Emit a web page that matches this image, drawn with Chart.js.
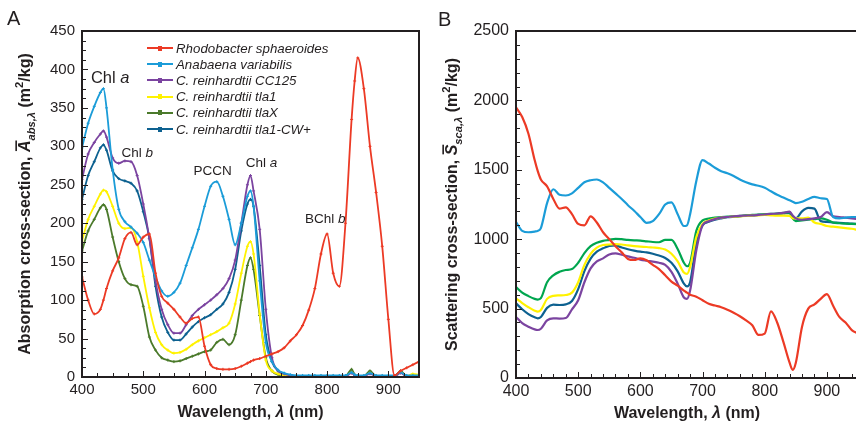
<!DOCTYPE html>
<html>
<head>
<meta charset="utf-8">
<script src="https://cdn.jsdelivr.net/npm/chart.js@4.4.1/dist/chart.umd.min.js"></script>
<style>
  body { margin: 0; width: 856px; height: 425px; overflow: hidden; background: #fff;
         font-family: "Liberation Sans", Arial, sans-serif; color: #231f20; position: relative; }
  .wrap { position: absolute; top: 0; height: 425px; }
  #wrapA { left: 0; width: 430px; }
  #wrapB { left: 430px; width: 432px; }
  .panel { position: absolute; font-size: 20px; line-height: 20px; }
  #legend { position: absolute; left: 147px; top: 40px; font-size: 13.3px; font-style: italic; }
  .row { height: 16.2px; display: flex; align-items: center; white-space: nowrap; }
  .sw { width: 26px; height: 2px; margin-right: 3px; position: relative; }
  .sw i { position: absolute; left: 11px; top: -1.5px; width: 4px; height: 5px; }
</style>
</head>
<body>
<div class="wrap" id="wrapA"><canvas id="chartA" width="430" height="425"></canvas></div>
<div class="wrap" id="wrapB"><canvas id="chartB" width="432" height="425"></canvas></div>
<div class="panel" style="left:7px;top:8px">A</div>
<div class="panel" style="left:438px;top:9px">B</div>
<div id="legend"></div>

<script>
// wavelength grid (nm), shared by every series
const wavelengths = [400, 410, 420, 430, 435, 440, 450, 460, 470, 480, 490, 500, 510, 520, 530, 540, 550, 560, 570, 580,
  590, 600, 610, 620, 630, 640, 650, 660, 670, 675, 680, 690, 700, 710, 720, 730, 740, 750, 760, 770,
  780, 790, 800, 810, 820, 830, 840, 845, 850, 860, 870, 880, 890, 900, 910, 920, 930, 940, 950];
const xTickValues = [400, 500, 600, 700, 800, 900];

const seriesNames = ["Rhodobacter sphaeroides", "Anabaena variabilis", "C. reinhardtii CC125",
  "C. reinhardtii tla1", "C. reinhardtii tlaX", "C. reinhardtii tla1-CW+"];
const colorsA = ["#ec3a25", "#1b9cd8", "#7b44a0", "#fff200", "#4b7a2b", "#0d6190"];
const colorsB = ["#ec3a25", "#1b9cd8", "#7b44a0", "#fff200", "#00a64f", "#0d6190"];

// panel A: absorption cross-section (m2/kg)
const absRhodo = [130, 100, 82, 88, 100, 115, 138, 155, 180, 188, 172, 182, 186, 135, 105, 96, 88, 78, 70, 76,
  78, 40, 16, 11, 10, 10, 11, 14, 18, 20, 22, 24, 27, 30, 33, 38, 47, 55, 67, 87,
  115, 160, 186, 135, 118, 200, 335, 385, 415, 375, 300, 240, 170, 75, 2, 8, 12, 16, 20];
const absAnabaena = [298, 330, 352, 370, 375, 350, 270, 218, 202, 195, 187, 175, 152, 130, 112, 105, 110, 122, 145, 168,
  192, 222, 248, 254, 235, 205, 172, 200, 235, 242, 222, 125, 45, 20, 9, 5, 3, 2, 2, 2,
  2, 2, 2, 2, 2, 2, 6, 3, 2, 2, 5, 2, 2, 2, 2, 6, 2, 2, 2];
const absCC125 = [257, 290, 305, 316, 320, 312, 285, 278, 281, 280, 262, 225, 180, 125, 88, 68, 57, 57, 68, 80,
  88, 94, 100, 107, 115, 128, 152, 200, 250, 262, 242, 192, 88, 25, 8, 4, 2, 1, 1, 1,
  1, 1, 1, 1, 1, 1, 5, 2, 1, 1, 4, 1, 1, 1, 1, 5, 1, 1, 1];
const absTla1 = [177, 205, 222, 238, 243, 241, 222, 200, 193, 194, 176, 131, 90, 58, 42, 35, 31, 32, 36, 42,
  47, 51, 55, 59, 64, 70, 95, 135, 170, 176, 160, 82, 22, 8, 4, 2, 1, 1, 1, 1,
  1, 1, 1, 1, 1, 1, 6, 2, 1, 1, 5, 1, 1, 1, 1, 6, 1, 4, 3];
const absTlaX = [164, 190, 205, 220, 224, 218, 182, 150, 128, 120, 118, 92, 52, 35, 25, 22, 20, 21, 24, 27,
  30, 33, 35, 45, 49, 42, 55, 100, 145, 155, 140, 80, 25, 8, 3, 1, 1, 1, 1, 1,
  1, 1, 1, 1, 1, 1, 10, 3, 1, 1, 8, 1, 1, 1, 1, 8, 1, 1, 1];
const absCW = [231, 262, 280, 298, 302, 295, 268, 258, 255, 252, 242, 215, 180, 118, 78, 58, 48, 48, 56, 65,
  72, 77, 81, 88, 95, 110, 140, 190, 225, 231, 222, 145, 55, 20, 8, 4, 2, 1, 1, 1,
  1, 1, 1, 1, 1, 1, 8, 3, 1, 1, 6, 1, 1, 1, 1, 7, 1, 2, 1];

// panel B: scattering cross-section (m2/kg)
const scaRhodo = [1950, 1880, 1760, 1570, 1490, 1430, 1380, 1290, 1220, 1230, 1180, 1110, 1100, 1165, 1120, 1050, 1000, 950, 905, 858,
  850, 862, 848, 815, 785, 740, 695, 665, 630, 615, 600, 586, 560, 535, 522, 510, 492, 470, 445, 415,
  380, 310, 320, 480, 400, 260, 110, 58, 110, 370, 500, 530, 570, 605, 520, 440, 400, 345, 320];
const scaAnabaena = [1125, 1060, 1050, 1055, 1060, 1080, 1260, 1360, 1320, 1315, 1330, 1370, 1410, 1425, 1430, 1410, 1370, 1330, 1290, 1245,
  1205, 1160, 1118, 1130, 1180, 1250, 1265, 1180, 1095, 1100, 1180, 1420, 1570, 1545, 1515, 1490, 1475, 1455, 1430, 1410,
  1395, 1385, 1370, 1345, 1320, 1300, 1280, 1270, 1260, 1270, 1290, 1305, 1295, 1290, 1160, 1150, 1155, 1160, 1160];
const scaCC125 = [440, 395, 370, 350, 346, 355, 415, 430, 428, 432, 495, 560, 690, 790, 840, 862, 890, 898, 888, 876,
  866, 853, 845, 838, 830, 815, 765, 680, 580, 570, 630, 920, 1100, 1130, 1145, 1155, 1160, 1165, 1168, 1170,
  1172, 1175, 1178, 1182, 1185, 1190, 1198, 1170, 1150, 1140, 1145, 1150, 1160, 1195, 1165, 1160, 1155, 1150, 1145];
const scaTla1 = [574, 540, 510, 485, 478, 490, 570, 592, 595, 598, 615, 690, 815, 895, 940, 958, 962, 965, 962, 955,
  950, 946, 944, 940, 936, 925, 895, 840, 760, 750, 800, 1015, 1110, 1135, 1148, 1155, 1160, 1162, 1165, 1168,
  1170, 1172, 1175, 1172, 1170, 1170, 1168, 1150, 1150, 1150, 1155, 1120, 1110, 1095, 1090, 1085, 1080, 1075, 1065];
const scaTlaX = [655, 615, 590, 570, 565, 575, 690, 740, 765, 778, 785, 830, 900, 950, 975, 988, 995, 1003, 1000, 995,
  992, 990, 985, 980, 978, 995, 995, 930, 830, 805, 830, 1060, 1135, 1148, 1155, 1160, 1162, 1165, 1168, 1172,
  1175, 1178, 1180, 1182, 1185, 1190, 1195, 1150, 1130, 1135, 1140, 1145, 1150, 1140, 1120, 1115, 1112, 1110, 1108];
const scaCW = [538, 495, 460, 437, 430, 440, 505, 528, 526, 530, 555, 640, 770, 860, 910, 934, 952, 955, 940, 928,
  918, 910, 905, 895, 882, 865, 830, 768, 680, 660, 690, 970, 1100, 1125, 1140, 1150, 1158, 1162, 1165, 1170,
  1172, 1175, 1178, 1180, 1182, 1185, 1190, 1150, 1150, 1200, 1225, 1220, 1130, 1125, 1120, 1118, 1115, 1112, 1110];

const absSeries = [absRhodo, absAnabaena, absCC125, absTla1, absTlaX, absCW];
const scaSeries = [scaRhodo, scaAnabaena, scaCC125, scaTla1, scaTlaX, scaCW];

const textColor = "#231f20";
const fontFamily = '"Liberation Sans", Arial, sans-serif';

function drawRich(ctx, segs, x, y, size, rotate) {
  ctx.save();
  ctx.translate(x, y);
  if (rotate) ctx.rotate(-Math.PI / 2);
  let total = 0;
  const parts = segs.map(s => {
    const fs = (s.sub || s.sup) ? size * 0.7 : size;
    const font = (s.i ? "italic " : "") + (s.b ? "bold " : "") + fs + "px " + fontFamily;
    ctx.font = font;
    const w = ctx.measureText(s.t).width;
    total += w;
    return Object.assign({}, s, { font: font, w: w });
  });
  let cx = -total / 2;
  const base = size * 0.36;
  ctx.fillStyle = textColor;
  ctx.textBaseline = "alphabetic";
  parts.forEach(p => {
    ctx.font = p.font;
    let dy = 0;
    if (p.sub) dy = size * 0.3;
    if (p.sup) dy = -size * 0.42;
    ctx.fillText(p.t, cx, base + dy);
    if (p.over) ctx.fillRect(cx + 1, base - size * 0.9, p.w - 1, 1.6);
    cx += p.w;
  });
  ctx.restore();
}

// frame, inward ticks, axis titles and peak labels
const decor = {
  id: "decor",
  afterDatasetsDraw(chart, args, o) {
    const ctx = chart.ctx, a = chart.chartArea, x = chart.scales.x, y = chart.scales.y;
    ctx.save();
    ctx.strokeStyle = textColor;
    ctx.lineWidth = 1;
    for (let v = x.min; v <= x.max; v += o.xMinor) {
      const px = Math.round(x.getPixelForValue(v)) + 0.5;
      const len = v % 100 === 0 ? 6 : 4;
      ctx.beginPath(); ctx.moveTo(px, a.bottom); ctx.lineTo(px, a.bottom - len); ctx.stroke();
    }
    for (let v = y.min; v <= y.max; v += o.yMinor) {
      const py = Math.round(y.getPixelForValue(v)) + 0.5;
      const len = v % o.yMajor === 0 ? 6 : 4;
      ctx.beginPath(); ctx.moveTo(a.left, py); ctx.lineTo(a.left + len, py); ctx.stroke();
    }
    ctx.lineWidth = 2;
    ctx.strokeRect(a.left, a.top, a.right - a.left, a.bottom - a.top);
    ctx.restore();

    drawRich(ctx, [{ t: "Wavelength, ", b: 1 }, { t: "λ", b: 1, i: 1 }, { t: " (nm)", b: 1 }],
      (a.left + a.right) / 2, a.bottom + 34, o.titleSize, false);
    drawRich(ctx, o.yTitle, o.yTitleX, (a.top + a.bottom) / 2 + o.yTitleDy, o.titleSize, true);
    (o.labels || []).forEach(l => {
      drawRich(ctx, l.segs, x.getPixelForValue(l.wl), y.getPixelForValue(l.val), l.size, false);
    });
  }
};

function makeChart(id, series, colors, cfg) {
  const datasets = series.map((vals, i) => ({
    label: seriesNames[i],
    data: vals.map((v, k) => ({ x: wavelengths[k], y: v })),
    borderColor: colors[i],
    backgroundColor: colors[i],
    borderWidth: cfg.lineWidth,
    pointRadius: cfg.pointRadius,
    pointStyle: "cross",
    pointBorderWidth: 1,
    cubicInterpolationMode: "monotone"
  }));
  const tickFont = { family: fontFamily, size: cfg.tickSize };
  return new Chart(document.getElementById(id), {
    type: "line",
    data: { datasets: datasets },
    plugins: [decor],
    options: {
      responsive: false,
      animation: false,
      layout: { padding: { top: 31, right: cfg.padRight, left: 0, bottom: 0 } },
      plugins: {
        legend: { display: false },
        tooltip: { enabled: false },
        decor: cfg.decor
      },
      scales: {
        x: {
          type: "linear", min: 400, max: 950,
          afterFit: s => { s.height = cfg.xHeight; },
          afterBuildTicks: s => { s.ticks = xTickValues.map(v => ({ value: v })); },
          ticks: { padding: 4, font: tickFont, color: textColor, maxRotation: 0, autoSkip: false,
                   callback: v => String(v) },
          grid: { display: false, drawTicks: false },
          border: { display: false }
        },
        y: {
          min: 0, max: cfg.yMax,
          afterFit: s => { s.width = cfg.yWidth; },
          ticks: { stepSize: cfg.yStep, padding: 7, font: tickFont, color: textColor,
                   callback: v => String(v) },
          grid: { display: false, drawTicks: false },
          border: { display: false }
        }
      }
    }
  });
}

makeChart("chartA", absSeries, colorsA, {
  lineWidth: 1.8, pointRadius: 1.5, tickSize: 15, padRight: 11, xHeight: 48, yWidth: 82,
  yMax: 450, yStep: 50,
  decor: {
    xMinor: 25, yMinor: 12.5, yMajor: 50, titleSize: 16, yTitleX: 24, yTitleDy: 0,
    yTitle: [{ t: "Absorption cross-section, ", b: 1 }, { t: "A", b: 1, i: 1, over: 1 }, { t: "abs,λ", b: 1, i: 1, sub: 1 },
      { t: " (m", b: 1 }, { t: "2", b: 1, sup: 1 }, { t: "/kg)", b: 1 }],
    labels: [
      { wl: 446, val: 390, size: 16.5, segs: [{ t: "Chl " }, { t: "a", i: 1 }] },
      { wl: 490, val: 293, size: 13.5, segs: [{ t: "Chl " }, { t: "b", i: 1 }] },
      { wl: 613, val: 269, size: 13.5, segs: [{ t: "PCCN" }] },
      { wl: 693, val: 279, size: 13.5, segs: [{ t: "Chl " }, { t: "a", i: 1 }] },
      { wl: 797, val: 207, size: 13.5, segs: [{ t: "BChl " }, { t: "b", i: 1 }] }
    ]
  }
});

makeChart("chartB", scaSeries, colorsB, {
  lineWidth: 2.2, pointRadius: 0, tickSize: 16, padRight: 4, xHeight: 47, yWidth: 86,
  yMax: 2500, yStep: 500,
  decor: {
    xMinor: 20, yMinor: 100, yMajor: 500, titleSize: 16, yTitleX: 21, yTitleDy: 0,
    yTitle: [{ t: "Scattering cross-section, ", b: 1 }, { t: "S", b: 1, i: 1, over: 1 }, { t: "sca,λ", b: 1, i: 1, sub: 1 },
      { t: " (m", b: 1 }, { t: "2", b: 1, sup: 1 }, { t: "/kg)", b: 1 }],
    labels: []
  }
});

// legend for panel A
const legend = document.getElementById("legend");
seriesNames.forEach((name, i) => {
  const row = document.createElement("div");
  row.className = "row";
  row.innerHTML = '<span class="sw" style="background:' + colorsA[i] + '"><i style="background:' + colorsA[i] +
    '"></i></span><span>' + name + "</span>";
  legend.appendChild(row);
});
</script>
</body>
</html>
